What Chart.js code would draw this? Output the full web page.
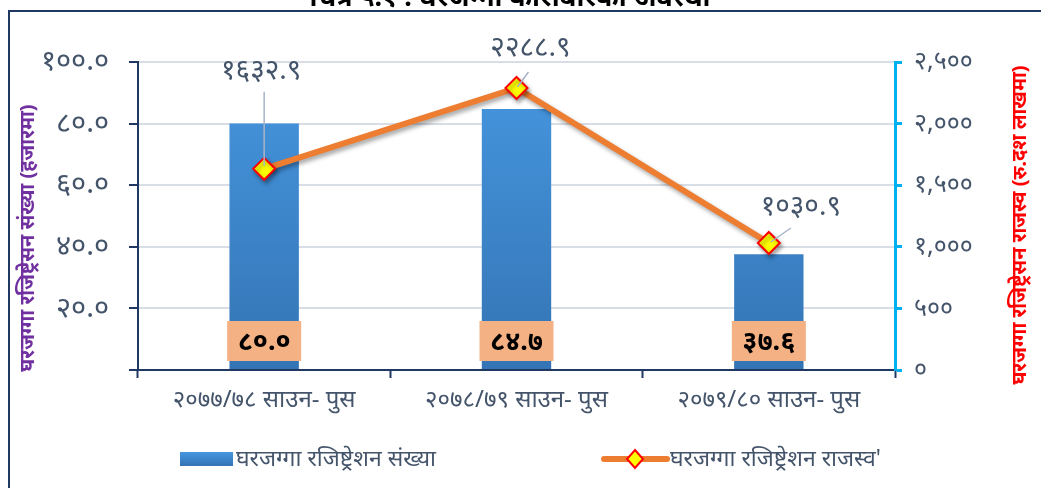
<!DOCTYPE html>
<html>
<head>
<meta charset="utf-8">
<script src="https://cdn.jsdelivr.net/npm/chart.js@4.4.0/dist/chart.umd.min.js"></script>
<style>
  html, body { margin: 0; padding: 0; background: #fff; }
  #wrap { width: 1041px; height: 488px; position: relative; overflow: hidden; }
</style>
</head>
<body>
<div id="wrap"><canvas id="chart" width="1041" height="488"></canvas></div>
<script>
// data
const categories = ['२०७७/७८ साउन- पुस', '२०७८/७९ साउन- पुस', '२०७९/८० साउन- पुस'];
const regCount = [80.0, 84.7, 37.6];          // हजारमा
const regRevenue = [1632.9, 2288.9, 1030.9];  // रु. दश लाखमा
const leftTicks = [0, 20, 40, 60, 80, 100];
const rightTicks = [0, 500, 1000, 1500, 2000, 2500];

const countLabel = 'घरजग्गा रजिष्ट्रेशन संख्या';
const revenueLabel = 'घरजग्गा रजिष्ट्रेशन राजस्व\'';
const leftTitle = 'घरजग्गा रजिष्ट्रेसन संख्या (हजारमा)';
const rightTitle = 'घरजग्गा रजिष्ट्रेसन राजस्व (रु.दश लाखमा)';
const chartTitle = 'चित्र ५.१ : घरजग्गा कारोबारको अवस्था';

const FONT = '"Noto Sans", "DejaVu Sans", sans-serif';
const TXT = '#44546A';

// अंकलाई देवनागरीमा
const devDigits = '०१२३४५६७८९';
function toDev(s) {
    return String(s).replace(/[0-9]/g, d => devDigits[+d]);
}
function withComma(n) {
    return n >= 1000 ? Math.floor(n / 1000) + ',' + String(n % 1000).padStart(3, '0') : String(n);
}

function barGradient(ctx) {
    const area = ctx.chart.chartArea;
    if (!area) return '#4393DD';
    const g = ctx.chart.ctx.createLinearGradient(0, area.top, 0, area.bottom);
    g.addColorStop(0, '#4697E0');
    g.addColorStop(1, '#3474B4');
    return g;
}

// label offsets from the point (style only)
const lineLabelOffsets = [
    { dx: -3, dy: -98, lx1: 0, ly1: -77, lx2: 0, ly2: -3 },
    { dx: 14, dy: -40, lx1: 12, ly1: -16, lx2: 1, ly2: -1 },
    { dx: 32, dy: -36, lx1: 22, ly1: -15, lx2: 2, ly2: -1 }
];

const extras = {
    id: 'extras',
    beforeDatasetDraw(chart, args) {
        if (args.index === 1) {
            const c = chart.ctx;
            c.save();
            c.shadowColor = 'rgba(0,0,0,0.35)';
            c.shadowBlur = 4;
            c.shadowOffsetX = 2;
            c.shadowOffsetY = 3;
        }
    },
    afterDatasetDraw(chart, args) {
        if (args.index === 1) chart.ctx.restore();
    },
    afterDatasetsDraw(chart) {
        const c = chart.ctx;
        // bar value boxes
        const barMeta = chart.getDatasetMeta(0);
        barMeta.data.forEach((bar, i) => {
            const cy = bar.base - 28;
            c.fillStyle = '#F4B183';
            c.fillRect(bar.x - 37, cy - 20, 74, 40);
            c.fillStyle = '#000';
            c.font = 'bold 27px ' + FONT;
            c.textAlign = 'center';
            c.textBaseline = 'middle';
            c.fillText(toDev(regCount[i].toFixed(1)), bar.x, cy + 1);
        });
        // line value labels + leader lines
        const lineMeta = chart.getDatasetMeta(1);
        lineMeta.data.forEach((pt, i) => {
            const o = lineLabelOffsets[i];
            c.strokeStyle = '#A6B4C8';
            c.lineWidth = 1.5;
            c.beginPath();
            c.moveTo(pt.x + o.lx1, pt.y + o.ly1);
            c.lineTo(pt.x + o.lx2, pt.y + o.ly2);
            c.stroke();
            c.fillStyle = TXT;
            c.font = '28px ' + FONT;
            c.textAlign = 'center';
            c.textBaseline = 'middle';
            c.fillText(toDev(regRevenue[i].toFixed(1)), pt.x + o.dx, pt.y + o.dy);
        });
    },
    afterDraw(chart) {
        const c = chart.ctx;
        c.save();
        // frame
        c.strokeStyle = '#1F3864';
        c.lineWidth = 2;
        c.beginPath();
        c.moveTo(9, 488);
        c.lineTo(9, 11);
        c.lineTo(1041, 11);
        c.stroke();
        // clipped title
        c.fillStyle = '#000';
        c.font = 'bold 27px ' + FONT;
        c.textAlign = 'center';
        c.textBaseline = 'alphabetic';
        c.fillText(chartTitle, 510, 6);

        // axis titles
        c.font = 'bold 20px ' + FONT;
        c.textBaseline = 'middle';
        c.fillStyle = '#7030A0';
        c.save();
        c.translate(28, 238);
        c.rotate(-Math.PI / 2);
        c.fillText(leftTitle, 0, 0);
        c.restore();
        c.fillStyle = '#FF0000';
        c.save();
        c.translate(1020, 225);
        c.rotate(-Math.PI / 2);
        c.fillText(rightTitle, 0, 0);
        c.restore();

        // legend
        const ly = 459;
        const g = c.createLinearGradient(0, ly - 7, 0, ly + 7);
        g.addColorStop(0, '#4697E0');
        g.addColorStop(1, '#3474B4');
        c.fillStyle = g;
        c.fillRect(180, ly - 7, 53, 14);
        c.fillStyle = TXT;
        c.font = '23px ' + FONT;
        c.textAlign = 'left';
        c.fillText(countLabel, 236, ly);

        c.strokeStyle = '#ED7D31';
        c.lineWidth = 6;
        c.lineCap = 'round';
        c.beginPath();
        c.moveTo(604, ly);
        c.lineTo(667, ly);
        c.stroke();
        c.beginPath();
        c.moveTo(635, ly - 9);
        c.lineTo(643, ly);
        c.lineTo(635, ly + 9);
        c.lineTo(627, ly);
        c.closePath();
        c.fillStyle = '#FFFF00';
        c.fill();
        c.strokeStyle = '#FF0000';
        c.lineWidth = 2;
        c.stroke();
        c.fillStyle = TXT;
        c.fillText(revenueLabel, 670, ly);
        c.restore();
    }
};

new Chart(document.getElementById('chart'), {
    type: 'bar',
    data: {
        labels: categories,
        datasets: [
            {
                type: 'bar',
                label: countLabel,
                data: regCount,
                yAxisID: 'y',
                backgroundColor: barGradient,
                categoryPercentage: 1,
                barPercentage: 0.275,
                order: 2
            },
            {
                type: 'line',
                label: revenueLabel,
                data: regRevenue,
                yAxisID: 'y1',
                borderColor: '#ED7D31',
                borderWidth: 6,
                tension: 0,
                pointStyle: 'rectRot',
                pointRadius: 11,
                pointHoverRadius: 11,
                pointBackgroundColor: '#FFFF00',
                pointBorderColor: '#FF0000',
                pointBorderWidth: 2,
                order: 1
            }
        ]
    },
    options: {
        responsive: false,
        animation: false,
        layout: { padding: { top: 62, left: 0, right: 0, bottom: 0 } },
        plugins: { legend: { display: false }, tooltip: { enabled: false } },
        scales: {
            x: {
                afterFit: s => { s.height = 118; },
                border: { color: '#1F3864', width: 2 },
                grid: { offset: true, drawOnChartArea: false, tickLength: 8, tickColor: '#1F3864', tickWidth: 2 },
                ticks: { color: TXT, font: { family: FONT, size: 24 }, padding: 8 }
            },
            y: {
                position: 'left',
                min: 0,
                max: 100,
                afterFit: s => { s.width = 138; },
                afterBuildTicks: s => { s.ticks = leftTicks.map(v => ({ value: v })); },
                border: { color: '#1F3864', width: 2 },
                grid: { color: '#D9DEE6', lineWidth: 2, tickLength: 9, tickColor: '#1F3864', tickWidth: 2 },
                ticks: {
                    color: TXT,
                    font: { family: FONT, size: 29 },
                    padding: 20,
                    callback: v => v === 0 ? '' : toDev(v.toFixed(1))
                }
            },
            y1: {
                position: 'right',
                min: 0,
                max: 2500,
                afterFit: s => { s.width = 146; },
                afterBuildTicks: s => { s.ticks = rightTicks.map(v => ({ value: v })); },
                border: { color: '#00B0F0', width: 3 },
                grid: { drawOnChartArea: false, tickLength: 7, tickColor: '#00B0F0', tickWidth: 3 },
                ticks: {
                    color: TXT,
                    font: { family: FONT, size: 25 },
                    padding: 12,
                    callback: v => toDev(withComma(v))
                }
            }
        }
    },
    plugins: [extras]
});
</script>
</body>
</html>
